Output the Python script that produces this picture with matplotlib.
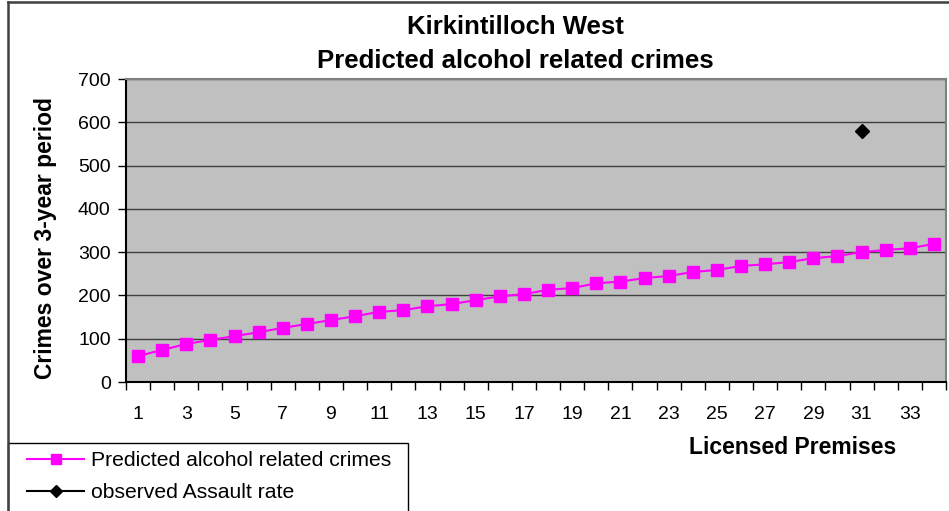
import matplotlib
matplotlib.use("Agg")
import matplotlib.pyplot as plt
from matplotlib.lines import Line2D
from matplotlib.patches import Rectangle
from matplotlib.ticker import FixedLocator

plt.rcParams['font.family'] = ['Liberation Sans', 'DejaVu Sans']

# data
premises = list(range(1, 35))
predicted = [60, 74, 88, 97, 106, 115, 125, 134, 143, 152, 162, 166, 175, 180,
             189, 198, 203, 213, 217, 228, 232, 240, 245, 254, 259, 268, 272,
             277, 286, 291, 300, 305, 309, 319]
observed_x = [31]
observed_y = [580]

W, H = 949, 511
fig = plt.figure(figsize=(W / 100, H / 100), dpi=100)
fig.patch.set_facecolor('white')

# chart border: only top and left edges are visible in the crop
fig.add_artist(Line2D([8 / W, 1], [1 - 2 / H, 1 - 2 / H], color='#404040', linewidth=1.8))
fig.add_artist(Line2D([8 / W, 8 / W], [0, 1 - 2 / H], color='#404040', linewidth=1.8))

ax = fig.add_axes([126 / W, 129 / H, 820 / W, 303 / H])
ax.set_facecolor('#c0c0c0')

ax.plot(premises, predicted, color='#ff00ff', marker='s', markersize=8.5,
        linewidth=1.5, label='Predicted alcohol related crimes', zorder=3)
ax.plot(observed_x, observed_y, color='black', marker='D', markersize=7,
        linewidth=1.5, label='observed Assault rate', zorder=3)

ax.set_xlim(0.5, 34.5)
ax.set_ylim(0, 700)
ax.set_yticks(range(0, 701, 100))
ax.yaxis.grid(True, color='#404040', linewidth=1)
ax.set_axisbelow(True)

# category ticks sit between categories, labels on every other one
ax.xaxis.set_major_locator(FixedLocator([x + 0.5 for x in range(0, 35)]))
ax.set_xticklabels([])
ax.xaxis.set_minor_locator(FixedLocator(list(range(1, 35, 2))))
ax.set_xticklabels([str(i) for i in range(1, 35, 2)], minor=True)
ax.tick_params(axis='x', which='major', length=6, width=1, direction='out', color='black')
ax.tick_params(axis='x', which='minor', length=0, pad=17, labelsize=14)
ax.tick_params(axis='y', length=6, width=1, labelsize=14, pad=5)

for side in ['left', 'bottom']:
    ax.spines[side].set_color('black')
    ax.spines[side].set_linewidth(1.5)
for side in ['top', 'right']:
    ax.spines[side].set_color('#808080')
    ax.spines[side].set_linewidth(1.5)

fig.text(515 / W, 1 - 44 / H, 'Kirkintilloch West\nPredicted alcohol related crimes',
         ha='center', va='center', fontsize=18.5, fontweight='bold', linespacing=1.5)
fig.text(46 / W, 1 - 238 / H, 'Crimes over 3-year period', rotation=90,
         ha='center', va='center', fontsize=16.5, fontweight='bold')
fig.text(793 / W, 1 - 448 / H, 'Licensed Premises',
         ha='center', va='center', fontsize=16.5, fontweight='bold')

# legend box runs off the bottom of the picture
fig.add_artist(Rectangle((8 / W, -0.05), 400 / W, 0.05 + 68 / H,
                         facecolor='white', edgecolor='black', linewidth=1))
leg = fig.legend(loc='upper left', bbox_to_anchor=(21 / W, 1 - 445 / H),
                 fontsize=15.2, frameon=False, handlelength=2.7,
                 handletextpad=0.3, borderaxespad=0, labelspacing=0.6,
                 borderpad=0.3, markerscale=0.9)

plt.savefig("out.png", dpi=100)
